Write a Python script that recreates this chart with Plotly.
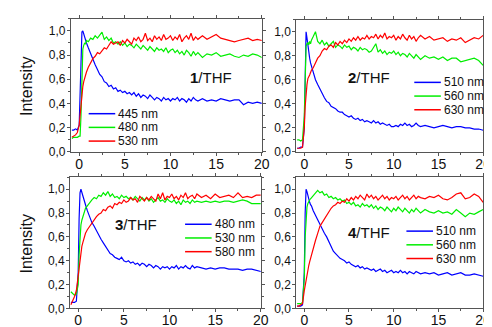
import plotly.graph_objects as go

# shared time axis (ps)
T = [-0.8, -0.6, -0.4, -0.2, 0.0, 0.1, 0.2, 0.3, 0.4, 0.5, 0.6, 0.7, 0.8, 1.0,
     1.25, 1.5, 1.75, 2.0, 2.25, 2.5, 2.75, 3.0, 3.25, 3.5, 3.75, 4.0,
     4.25, 4.5, 4.75, 5.0, 5.25, 5.5, 5.75, 6.0, 6.25, 6.5, 6.75, 7.0,
     7.25, 7.5, 7.75, 8.0, 8.25, 8.5, 8.75, 9.0, 9.25, 9.5, 9.75, 10.0,
     10.25, 10.5, 10.75, 11.0, 11.25, 11.5, 11.75, 12.0, 12.25, 12.5, 12.75, 13.0,
     13.5, 14.0, 14.5, 15.0, 15.5, 16.0, 16.5, 17.0, 17.5, 18.0, 18.5, 19.0, 19.5, 20.0]

# panel 1: 1/THF
p1_labels = ["445 nm", "480 nm", "530 nm"]
p1_blue = [0.18, 0.18, 0.19, 0.18, 0.22, 0.55, 0.92, 0.99, 1.00, 0.97, 0.95, 0.93, 0.90, 0.86,
           0.81, 0.76, 0.72, 0.68, 0.64, 0.62, 0.58, 0.57, 0.54, 0.55, 0.52, 0.53,
           0.50, 0.51, 0.49, 0.50, 0.48, 0.49, 0.47, 0.49, 0.46, 0.48, 0.45, 0.47,
           0.46, 0.44, 0.47, 0.45, 0.43, 0.45, 0.44, 0.42, 0.45, 0.43, 0.44, 0.42,
           0.44, 0.43, 0.45, 0.42, 0.44, 0.43, 0.41, 0.44, 0.42, 0.45, 0.43, 0.42,
           0.44, 0.42, 0.43, 0.42, 0.44, 0.43, 0.42, 0.43, 0.43, 0.39, 0.41, 0.40, 0.41, 0.40]
p1_green = [0.11, 0.12, 0.12, 0.12, 0.13, 0.13, 0.30, 0.62, 0.85, 0.88, 0.90, 0.89, 0.92, 0.91,
            0.94, 0.93, 0.96, 0.94, 0.97, 0.99, 0.93, 0.95, 0.92, 0.94, 0.90, 0.91,
            0.89, 0.91, 0.88, 0.90, 0.87, 0.89, 0.88, 0.86, 0.89, 0.87, 0.85, 0.88,
            0.86, 0.84, 0.87, 0.85, 0.83, 0.86, 0.84, 0.85, 0.83, 0.86, 0.82, 0.84,
            0.85, 0.82, 0.84, 0.81, 0.83, 0.80, 0.84, 0.82, 0.79, 0.83, 0.80, 0.82,
            0.78, 0.81, 0.80, 0.82, 0.79, 0.80, 0.81, 0.79, 0.78, 0.80, 0.79, 0.81, 0.80, 0.78]
p1_red = [0.12, 0.13, 0.14, 0.16, 0.22, 0.30, 0.40, 0.48, 0.54, 0.58, 0.61, 0.64, 0.66, 0.70,
          0.74, 0.77, 0.79, 0.82, 0.81, 0.84, 0.86, 0.85, 0.88, 0.91, 0.89, 0.90,
          0.91, 0.88, 0.92, 0.90, 0.93, 0.91, 0.89, 0.94, 0.92, 0.95, 0.91, 0.93,
          0.98, 0.92, 0.94, 0.91, 0.96, 0.93, 0.95, 0.92, 0.97, 0.93, 0.94, 0.96,
          0.92, 0.95, 0.93, 0.97, 0.91, 0.94, 0.96, 0.93, 0.98, 0.92, 0.95, 0.93,
          0.96, 0.93, 0.95, 0.97, 0.94, 0.93, 0.92, 0.91, 0.92, 0.93, 0.94, 0.92, 0.93, 0.92]

# panel 2: 2/THF
p2_labels = ["510 nm", "560 nm", "630 nm"]
p2_blue = [0.03, 0.03, 0.04, 0.04, 0.20, 0.70, 1.00, 0.95, 0.88, 0.82, 0.78, 0.74, 0.71, 0.66,
           0.60, 0.56, 0.52, 0.49, 0.45, 0.42, 0.41, 0.38, 0.37, 0.36, 0.34, 0.33,
           0.33, 0.31, 0.30, 0.29, 0.30, 0.28, 0.27, 0.28, 0.26, 0.27, 0.25, 0.26,
           0.25, 0.24, 0.26, 0.24, 0.25, 0.23, 0.24, 0.23, 0.22, 0.23, 0.21, 0.21,
           0.22, 0.21, 0.23, 0.22, 0.24, 0.22, 0.23, 0.21, 0.22, 0.24, 0.22, 0.21,
           0.22, 0.21, 0.20, 0.21, 0.22, 0.21, 0.20, 0.21, 0.21, 0.20, 0.20, 0.19, 0.19, 0.18]
p2_green = [0.10, 0.10, 0.09, 0.10, 0.30, 0.65, 0.88, 0.90, 0.91, 0.89, 0.92, 0.90, 0.93, 0.96,
            1.00, 0.92, 0.90, 0.93, 0.89, 0.91, 0.88, 0.90, 0.92, 0.87, 0.89, 0.88,
            0.86, 0.89, 0.87, 0.88, 0.85, 0.87, 0.86, 0.84, 0.87, 0.85, 0.86, 0.85,
            0.83, 0.84, 0.87, 0.90, 0.83, 0.85, 0.82, 0.84, 0.81, 0.83, 0.82, 0.84,
            0.81, 0.83, 0.80, 0.82, 0.81, 0.79, 0.82, 0.80, 0.78, 0.81, 0.79, 0.77,
            0.80, 0.78, 0.79, 0.77, 0.79, 0.76, 0.78, 0.78, 0.75, 0.76, 0.77, 0.78, 0.76, 0.72]
p2_red = [0.03, 0.03, 0.03, 0.04, 0.20, 0.38, 0.50, 0.56, 0.61, 0.62, 0.64, 0.66, 0.68, 0.70,
          0.74, 0.78, 0.80, 0.84, 0.86, 0.85, 0.88, 0.89, 0.87, 0.91, 0.89, 0.92,
          0.90, 0.93, 0.91, 0.94, 0.92, 0.95, 0.93, 0.96, 0.93, 0.95, 0.94, 0.97,
          0.94, 0.96, 0.95, 0.98, 0.94, 0.97, 0.95, 0.99, 0.94, 0.96, 0.95, 0.97,
          0.93, 0.96, 0.94, 0.98, 0.95, 0.93, 0.97, 0.94, 0.96, 0.92, 0.95, 0.97,
          0.94, 0.96, 0.93, 0.94, 0.95, 0.92, 0.94, 0.93, 0.95, 0.91, 0.93, 0.95, 0.94, 0.97]

# panel 3: 3/THF
p3_labels = ["480 nm", "530 nm", "580 nm"]
p3_blue = [0.05, 0.05, 0.05, 0.06, 0.30, 0.75, 0.97, 1.00, 0.97, 0.95, 0.92, 0.90, 0.87, 0.82,
           0.76, 0.72, 0.69, 0.65, 0.62, 0.58, 0.55, 0.52, 0.49, 0.46, 0.45, 0.43,
           0.42, 0.41, 0.43, 0.40, 0.39, 0.40, 0.38, 0.39, 0.37, 0.38, 0.36, 0.38,
           0.37, 0.35, 0.37, 0.36, 0.34, 0.36, 0.35, 0.33, 0.35, 0.34, 0.35, 0.33,
           0.35, 0.34, 0.36, 0.33, 0.35, 0.34, 0.36, 0.34, 0.33, 0.36, 0.34, 0.35,
           0.34, 0.33, 0.34, 0.33, 0.34, 0.34, 0.33, 0.33, 0.33, 0.32, 0.33, 0.33, 0.32, 0.31]
p3_green = [0.14, 0.12, 0.11, 0.12, 0.20, 0.45, 0.62, 0.70, 0.74, 0.77, 0.80, 0.82, 0.84, 0.86,
            0.89, 0.91, 0.93, 0.92, 0.95, 0.94, 0.97, 0.95, 0.98, 0.94, 0.96, 0.93,
            0.94, 0.92, 0.95, 0.93, 0.94, 0.92, 0.93, 0.91, 0.94, 0.92, 0.90, 0.93,
            0.91, 0.93, 0.90, 0.92, 0.89, 0.91, 0.93, 0.90, 0.91, 0.89, 0.92, 0.90,
            0.89, 0.91, 0.88, 0.90, 0.87, 0.91, 0.89, 0.90, 0.88, 0.91, 0.89, 0.90,
            0.89, 0.90, 0.89, 0.90, 0.89, 0.90, 0.90, 0.89, 0.90, 0.91, 0.90, 0.88, 0.88, 0.88]
p3_red = [0.03, 0.06, 0.10, 0.15, 0.28, 0.35, 0.42, 0.47, 0.52, 0.55, 0.58, 0.61, 0.63, 0.66,
          0.69, 0.72, 0.75, 0.77, 0.79, 0.80, 0.83, 0.82, 0.85, 0.86, 0.84, 0.88,
          0.87, 0.89, 0.88, 0.91, 0.89, 0.90, 0.93, 0.91, 0.92, 0.89, 0.94, 0.92,
          0.90, 0.93, 0.91, 0.94, 0.92, 0.90, 0.96, 0.92, 0.97, 0.91, 0.94, 0.93,
          0.96, 0.92, 0.94, 0.91, 0.95, 0.93, 0.97, 0.92, 0.94, 0.95, 0.92, 0.96,
          0.93, 0.95, 0.92, 0.96, 0.93, 0.94, 0.95, 0.93, 0.97, 0.93, 0.94, 0.93, 0.95, 0.95]

# panel 4: 4/THF
p4_labels = ["510 nm", "560 nm", "630 nm"]
p4_blue = [0.02, 0.02, 0.02, 0.03, 0.30, 0.80, 1.00, 0.98, 0.94, 0.92, 0.89, 0.87, 0.86, 0.82,
           0.78, 0.74, 0.70, 0.67, 0.63, 0.60, 0.56, 0.52, 0.48, 0.46, 0.44, 0.42,
           0.41, 0.40, 0.38, 0.39, 0.37, 0.36, 0.35, 0.36, 0.34, 0.35, 0.33, 0.34,
           0.33, 0.32, 0.33, 0.31, 0.32, 0.33, 0.31, 0.32, 0.30, 0.31, 0.32, 0.30,
           0.31, 0.30, 0.32, 0.30, 0.31, 0.29, 0.31, 0.30, 0.29, 0.31, 0.30, 0.29,
           0.30, 0.29, 0.30, 0.28, 0.29, 0.30, 0.28, 0.29, 0.30, 0.28, 0.28, 0.29, 0.28, 0.27]
p4_green = [0.04, 0.04, 0.04, 0.05, 0.25, 0.60, 0.78, 0.85, 0.88, 0.90, 0.91, 0.92, 0.93, 0.95,
            0.97, 0.99, 0.97, 0.98, 0.95, 0.96, 0.93, 0.94, 0.92, 0.93, 0.91, 0.92,
            0.90, 0.91, 0.88, 0.89, 0.87, 0.89, 0.86, 0.87, 0.85, 0.88, 0.86, 0.87,
            0.85, 0.87, 0.84, 0.86, 0.83, 0.85, 0.84, 0.82, 0.85, 0.83, 0.81, 0.84,
            0.82, 0.85, 0.83, 0.81, 0.84, 0.82, 0.80, 0.83, 0.81, 0.84, 0.82, 0.80,
            0.83, 0.81, 0.80, 0.82, 0.80, 0.81, 0.79, 0.83, 0.80, 0.77, 0.80, 0.79, 0.81, 0.83]
p4_red = [0.02, 0.02, 0.03, 0.04, 0.15, 0.20, 0.25, 0.30, 0.33, 0.36, 0.39, 0.42, 0.45, 0.50,
          0.57, 0.63, 0.69, 0.72, 0.75, 0.79, 0.82, 0.84, 0.86, 0.87, 0.89, 0.88,
          0.90, 0.89, 0.92, 0.90, 0.93, 0.91, 0.94, 0.92, 0.95, 0.93, 0.91, 0.96,
          0.93, 0.95, 0.92, 0.94, 0.91, 0.93, 0.95, 0.92, 0.94, 0.91, 0.93, 0.92,
          0.94, 0.91, 0.93, 0.95, 0.92, 0.94, 0.91, 0.93, 0.95, 0.92, 0.94, 0.93,
          0.92, 0.94, 0.93, 0.95, 0.92, 0.91, 0.93, 0.96, 0.97, 0.92, 0.93, 0.96, 0.94, 0.89]

panel_titles = ["<b>1</b>/THF", "<b>2</b>/THF", "<b>3</b>/THF", "<b>4</b>/THF"]
x_ticks = [0, 5, 10, 15, 20]
y_ticks = [0.0, 0.2, 0.4, 0.6, 0.8, 1.0]

W, H = 492, 327
COLORS = ["#0000ff", "#00ee00", "#ff0000"]
FONT = "Arial, Liberation Sans, sans-serif"

panels = [
    dict(series=[p1_blue, p1_green, p1_red], labels=p1_labels, box=(64, 258, 11, 147),
         title_xy=(206, 71), leg_xy=(82, 108)),
    dict(series=[p2_blue, p2_green, p2_red], labels=p2_labels, box=(293, 483, 12, 147),
         title_xy=(367, 71), leg_xy=(413, 76)),
    dict(series=[p3_blue, p3_green, p3_red], labels=p3_labels, box=(63, 257, 173, 307),
         title_xy=(130, 221), leg_xy=(180, 221)),
    dict(series=[p4_blue, p4_green, p4_red], labels=p4_labels, box=(293, 483, 173, 307),
         title_xy=(367, 229), leg_xy=(405, 228)),
]

fig = go.Figure()
layout = dict(width=W, height=H, margin=dict(l=0, r=0, t=0, b=0),
              paper_bgcolor="white", plot_bgcolor="white", showlegend=False,
              separators=", ", font=dict(family=FONT, color="#111"))
annotations, shapes = [], []

for i, p in enumerate(panels):
    n = "" if i == 0 else str(i + 1)
    xa, ya = "x" + n, "y" + n
    for vals, lab, col in zip(p["series"], p["labels"], COLORS):
        fig.add_trace(go.Scatter(x=T, y=vals, mode="lines", name=lab,
                                 line=dict(color=col, width=1.2),
                                 xaxis=xa, yaxis=ya))
    x0, x1, y0, y1 = p["box"]
    common = dict(showline=True, linecolor="#555", linewidth=1, mirror="ticks",
                  ticks="outside", ticklen=3, tickcolor="#555", showgrid=False,
                  zeroline=False)
    layout["xaxis" + n] = dict(domain=[x0 / W, x1 / W], range=[-0.9, 20], anchor=ya,
                               tickvals=x_ticks, tickfont=dict(size=14),
                               ticklabelstandoff=-4,
                               minor=dict(dtick=2.5, tick0=0, ticks="outside", ticklen=2,
                                          tickcolor="#555"),
                               **common)
    layout["yaxis" + n] = dict(domain=[1 - y1 / H, 1 - y0 / H], range=[0, 1.1], anchor=xa,
                               tickvals=y_ticks, tickformat=".1f", tickfont=dict(size=12),
                               ticklabelstandoff=-1,
                               minor=dict(dtick=0.1, tick0=0, ticks="outside", ticklen=2,
                                          tickcolor="#555"),
                               **common)
    tx, ty = p["title_xy"]
    annotations.append(dict(text=panel_titles[i], x=tx / W, y=1 - ty / H, xref="paper",
                            yref="paper", showarrow=False, font=dict(size=15),
                            xanchor="center", yanchor="middle"))
    lx, ly = p["leg_xy"]
    for k, (lab, col) in enumerate(zip(p["labels"], COLORS)):
        yy = 1 - (ly + 14 * k) / H
        shapes.append(dict(type="line", xref="paper", yref="paper",
                           x0=lx / W, x1=(lx + 27) / W, y0=yy, y1=yy,
                           line=dict(color=col, width=1.5)))
        annotations.append(dict(text=lab, x=(lx + 28) / W, y=yy, xref="paper", yref="paper",
                                showarrow=False, font=dict(size=12), xanchor="left",
                                yanchor="middle"))

for yc in (80, 241):
    annotations.append(dict(text="Intensity", x=19 / W, y=1 - yc / H, xref="paper",
                            yref="paper", showarrow=False, textangle=-90,
                            font=dict(size=16), xanchor="center", yanchor="middle"))

layout["annotations"] = annotations
layout["shapes"] = shapes
fig.update_layout(**layout)
fig.write_html("out.html")
